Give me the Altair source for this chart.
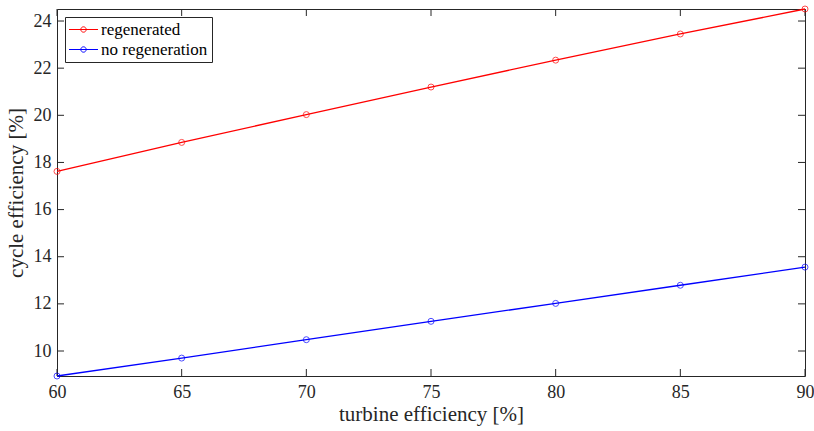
import altair as alt
import pandas as pd

turbine_eff = [60, 65, 70, 75, 80, 85, 90]
regenerated = [17.62, 18.85, 20.03, 21.20, 22.34, 23.45, 24.51]
no_regen = [8.94, 9.70, 10.48, 11.26, 12.02, 12.79, 13.56]
series_names = ["regenerated", "no regeneration"]
series_colors = ["#ff0000", "#0000ff"]
x_ticks = [60, 65, 70, 75, 80, 85, 90]
y_ticks = [10, 12, 14, 16, 18, 20, 22, 24]

rows = []
for x, a, b in zip(turbine_eff, regenerated, no_regen):
    rows.append({"x": x, "y": a, "series": series_names[0]})
    rows.append({"x": x, "y": b, "series": series_names[1]})
df = pd.DataFrame(rows)
dfx = pd.DataFrame({"v": x_ticks})
dfy = pd.DataFrame({"v": y_ticks})

W, H = 748, 367
TL = 7
FONT = "Liberation Serif"
TC = "#262626"

xs = alt.Scale(domain=[60, 90], nice=False, zero=False)
ys = alt.Scale(domain=[8.94, 24.51], nice=False, zero=False)
cs = alt.Scale(domain=series_names, range=series_colors)

xax = alt.Axis(title="turbine efficiency [%]", values=x_ticks, tickSize=0, domain=False,
               grid=False, labelPadding=7, titlePadding=2, labelFontSize=18, titleFontSize=21,
               labelFlush=False, labelFont=FONT, titleFont=FONT, labelColor=TC,
               titleColor=TC, titleFontWeight="normal")
yax = alt.Axis(title="cycle efficiency [%]", values=y_ticks, tickSize=0, domain=False,
               grid=False, labelPadding=6, titlePadding=7, labelFontSize=18, titleFontSize=21,
               labelFont=FONT, titleFont=FONT, labelColor=TC, titleColor=TC,
               titleFontWeight="normal")

sym = "M-2,0H2M-0.37,0A0.37,0.37,0,1,0,0.37,0A0.37,0.37,0,1,0,-0.37,0"

lines = alt.Chart(df).mark_line(strokeWidth=1.3, clip=False).encode(
    x=alt.X("x:Q", scale=xs, axis=xax),
    y=alt.Y("y:Q", scale=ys, axis=yax),
    color=alt.Color("series:N", scale=cs, sort=series_names,
                    legend=alt.Legend(title=None, orient="none", legendX=8, legendY=8,
                                      symbolType=sym, symbolSize=210, symbolStrokeWidth=1,
                                      symbolFillColor="transparent", symbolOffset=6,
                                      labelFontSize=17, labelFont=FONT, labelColor="black",
                                      strokeColor=TC, fillColor="white",
                                      padding=4, rowPadding=2, labelOffset=9,
                                      cornerRadius=0)),
)
pts = alt.Chart(df).mark_point(shape="circle", size=36, filled=False, strokeWidth=1,
                               clip=False).encode(
    x=alt.X("x:Q", scale=xs),
    y=alt.Y("y:Q", scale=ys),
    color=alt.Color("series:N", scale=cs, sort=series_names, legend=None),
)

bt = alt.Chart(dfx).mark_rule(color=TC, strokeWidth=1).encode(
    x=alt.X("v:Q", scale=xs), y=alt.value(H), y2=alt.value(H - TL))
tt = alt.Chart(dfx).mark_rule(color=TC, strokeWidth=1).encode(
    x=alt.X("v:Q", scale=xs), y=alt.value(0), y2=alt.value(TL))
lt = alt.Chart(dfy).mark_rule(color=TC, strokeWidth=1).encode(
    y=alt.Y("v:Q", scale=ys), x=alt.value(0), x2=alt.value(TL))
rt = alt.Chart(dfy).mark_rule(color=TC, strokeWidth=1).encode(
    y=alt.Y("v:Q", scale=ys), x=alt.value(W), x2=alt.value(W - TL))

chart = alt.layer(bt, tt, lt, rt, lines, pts).properties(
    width=W, height=H,
    autosize=alt.AutoSizeParams(type="none"),
    padding={"left": 57, "top": 9, "right": 9, "bottom": 55},
).configure(
    background="white"
).configure_view(
    stroke=TC, strokeWidth=1
)

chart.save("out.html", embed_options={"renderer": "svg", "actions": False})
